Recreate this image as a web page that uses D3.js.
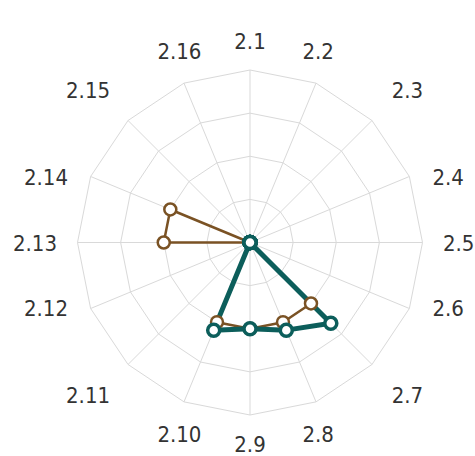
<!DOCTYPE html>
<html>
<head>
<meta charset="utf-8">
<script src="https://cdn.jsdelivr.net/npm/d3@7"></script>
<style>
  html, body { margin: 0; padding: 0; background: #fff; }
  svg { display: block; }
  .axisLabel {
    font-family: "DejaVu Sans Condensed", "DejaVu Sans", sans-serif;
    font-stretch: condensed;
    font-size: 22px;
    fill: #333;
  }
</style>
</head>
<body>
<svg id="chart"></svg>
<script>
// axis categories, clockwise from the top
var categories = ["2.1", "2.2", "2.3", "2.4", "2.5", "2.6", "2.7", "2.8",
                  "2.9", "2.10", "2.11", "2.12", "2.13", "2.14", "2.15", "2.16"];

// series values, one per category
var brownValues = [0, 0, 0, 0, 0, 0, 2, 2, 2, 2, 0, 0, 2, 2, 0, 0];
var tealValues  = [0, 0, 0, 0, 0, 0, 2.65, 2.2, 2.0, 2.2, 0, 0, 0, 0, 0, 0];

// grid rings
var ringTicks = [1, 2, 3, 4];

var W = 475, H = 456,
    cx = 250, cy = 242.5,
    R = 172.5;

var svg = d3.select("#chart")
    .attr("width", W)
    .attr("height", H);

var g = svg.append("g").attr("transform", "translate(" + cx + "," + cy + ")");

var angle = d3.scaleBand()
    .domain(categories)
    .range([0, 2 * Math.PI])
    .align(0);

var r = d3.scaleLinear()
    .domain([0, d3.max(ringTicks)])
    .range([0, R]);

function pt(cat, v) {
  var a = angle(cat);
  return [Math.sin(a) * r(v), -Math.cos(a) * r(v)];
}

/*
 *    G R I D
 */
var grid = g.append("g").attr("class", "grid");

grid.selectAll(".ring")
  .data(ringTicks)
  .enter().append("polygon")
    .attr("class", "ring")
    .attr("points", function(t) {
      return categories.map(function(c) { return pt(c, t).join(","); }).join(" ");
    })
    .style("fill", "none")
    .style("stroke", "#d9d9d9")
    .style("stroke-width", 1);

grid.selectAll(".spoke")
  .data(categories)
  .enter().append("line")
    .attr("class", "spoke")
    .attr("x1", 0).attr("y1", 0)
    .attr("x2", function(c) { return pt(c, d3.max(ringTicks))[0]; })
    .attr("y2", function(c) { return pt(c, d3.max(ringTicks))[1]; })
    .style("stroke", "#d9d9d9")
    .style("stroke-width", 1);

/*
 *    L A B E L S
 */
var labels = g.selectAll(".axisLabel")
  .data(categories)
  .enter().append("text")
    .attr("class", "axisLabel")
    .attr("text-anchor", "middle")
    .text(function(d) { return d; });

// labels sit a bit further out on the diagonals, nudged toward the main axes
labels.each(function(c) {
  var a = angle(c),
      w = this.getComputedTextLength(),
      h = 17,
      s2 = Math.pow(Math.sin(2 * a), 8),
      aq = a - (3.8 * Math.PI / 180) * Math.sin(4 * a),
      rq = 193 + 14 * s2,
      x = Math.sin(aq) * rq + Math.sin(a) * w / 2,
      y = -Math.cos(aq) * rq - Math.cos(a) * h / 2;
  d3.select(this).attr("x", x).attr("y", y + 8);
});

/*
 *    S E R I E S
 */
var series = [
  { name: "brown", values: brownValues, color: "#7a5224", width: 2.5, mstroke: 2.5 },
  { name: "teal",  values: tealValues,  color: "#0c5e5b", width: 5,   mstroke: 3.5 }
];

var line = d3.lineRadial()
    .angle(function(d) { return angle(d.cat); })
    .radius(function(d) { return r(d.v); })
    .curve(d3.curveLinearClosed);

function rows(s) {
  return categories.map(function(c, i) { return { cat: c, v: s.values[i] }; });
}

g.selectAll(".seriesLine")
  .data(series)
  .enter().append("path")
    .attr("class", "seriesLine")
    .attr("d", function(s) { return line(rows(s)); })
    .style("fill", "none")
    .style("stroke", function(s) { return s.color; })
    .style("stroke-width", function(s) { return s.width; })
    .style("stroke-linejoin", "round");

series.forEach(function(s) {
  g.append("g").attr("class", "markers " + s.name)
    .selectAll("circle")
    .data(rows(s))
    .enter().append("circle")
      .attr("cx", function(d) { return pt(d.cat, d.v)[0]; })
      .attr("cy", function(d) { return pt(d.cat, d.v)[1]; })
      .attr("r", 6)
      .style("fill", "#fff")
      .style("stroke", s.color)
      .style("stroke-width", s.mstroke);
});
</script>
</body>
</html>
